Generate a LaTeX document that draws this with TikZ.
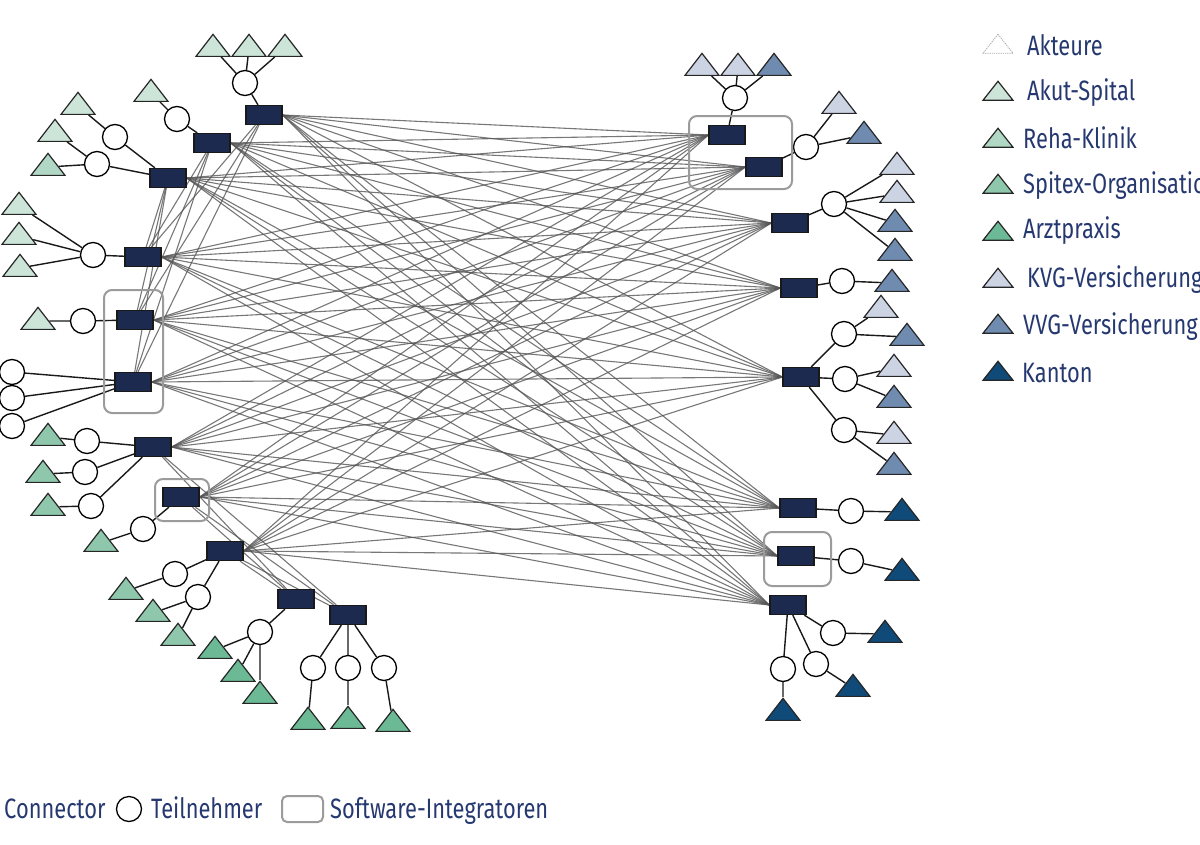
\documentclass[tikz,border=0pt]{standalone}
\usepackage{fontspec}
\setmainfont[FakeStretch=0.78]{Fira Sans}
\usetikzlibrary{shapes.geometric,backgrounds}
\definecolor{navy}{RGB}{27,42,78}
\definecolor{akut}{RGB}{205,229,216}
\definecolor{reha}{RGB}{176,216,196}
\definecolor{spitex}{RGB}{143,199,172}
\definecolor{arzt}{RGB}{108,185,150}
\definecolor{kvg}{RGB}{204,211,227}
\definecolor{vvg}{RGB}{111,139,176}
\definecolor{kanton}{RGB}{15,74,120}
\definecolor{textblue}{RGB}{38,56,112}
\definecolor{meshgray}{RGB}{85,85,85}
\definecolor{boxgray}{RGB}{155,155,155}
\begin{document}
\begin{tikzpicture}[x=1pt,y=-1pt,
  conn/.style={rectangle, draw=black!90, fill=navy, line width=1.3, minimum width=36, minimum height=19, inner sep=0},
  part/.style={circle, draw=black, fill=white, line width=1.3, minimum size=25, inner sep=0},
  tri/.style={isosceles triangle, isosceles triangle stretches, shape border rotate=90, draw=black!85, line width=1.2, fill=#1, minimum width=34, minimum height=22, inner sep=0},
  ltri/.style={tri=#1, minimum width=30, minimum height=19},
  tedge/.style={line width=1.4, black!90},
  mesh/.style={line width=1.1, draw=meshgray, draw opacity=0.8},
  intbox/.style={draw=boxgray, line width=2, rounded corners=8},
  lbl/.style={text=textblue, font=\fontsize{28}{30}\selectfont, inner sep=0, anchor=base west}]
\useasboundingbox (0,0) rectangle (1200,844);
\clip (0,0) rectangle (1200,844);
% left connectors
\node[conn] (L1) at (264,115) {};
\node[conn] (L2) at (212,143) {};
\node[conn] (L3) at (168,178) {};
\node[conn] (L4) at (143,257) {};
\node[conn] (L5) at (135,320) {};
\node[conn] (L6) at (133,382) {};
\node[conn] (L7) at (153,447) {};
\node[conn] (L8) at (181,497) {};
\node[conn] (L9) at (225,551) {};
\node[conn] (L10) at (296,599) {};
\node[conn] (L11) at (348,615) {};
% right connectors
\node[conn] (R1) at (727,135) {};
\node[conn] (R2) at (764,167) {};
\node[conn] (R3) at (790,223) {};
\node[conn] (R4) at (799,288) {};
\node[conn] (R5) at (801,377) {};
\node[conn] (R6) at (798,508) {};
\node[conn] (R7) at (796,556) {};
\node[conn] (R8) at (788,605) {};
% left participants
\node[part] (pA) at (245,83) {};
\node[tri=akut] (tA1) at (213,48) {};
\node[tri=akut] (tA2) at (249,48) {};
\node[tri=akut] (tA3) at (285,48) {};
\node[part] (pB) at (177,119) {};
\node[tri=akut] (tB) at (151,93) {};
\node[part] (pC1) at (115,137) {};
\node[part] (pC2) at (97,164) {};
\node[tri=akut] (tC1) at (78,106) {};
\node[tri=akut] (tC2) at (55,133) {};
\node[tri=reha] (tC3) at (48,167) {};
\node[part] (pD) at (93,255) {};
\node[tri=akut] (tD1) at (19,206) {};
\node[tri=akut] (tD2) at (19,236) {};
\node[tri=akut] (tD3) at (20,268) {};
\node[part] (pE) at (83,321) {};
\node[tri=akut] (tE) at (38,321) {};
\node[part] (pF1) at (12,372) {};
\node[part] (pF2) at (12,398) {};
\node[part] (pF3) at (12,426) {};
\node[part] (pG1) at (87,441) {};
\node[part] (pG2) at (85,472) {};
\node[part] (pG3) at (91,506) {};
\node[tri=spitex] (tG1) at (48,437) {};
\node[tri=spitex] (tG2) at (43,474) {};
\node[tri=spitex] (tG3) at (48,507) {};
\node[part] (pH) at (143,529) {};
\node[tri=spitex] (tH) at (101,543) {};
\node[part] (pI1) at (175,574) {};
\node[part] (pI2) at (198,597) {};
\node[tri=spitex] (tI1) at (126,591) {};
\node[tri=spitex] (tI2) at (153,613) {};
\node[tri=spitex] (tI3) at (178,637) {};
\node[part] (pJ) at (260,632) {};
\node[tri=arzt] (tJ1) at (215,650) {};
\node[tri=arzt] (tJ2) at (238,673) {};
\node[tri=arzt] (tJ3) at (260,695) {};
\node[part] (pK1) at (313,668) {};
\node[part] (pK2) at (348,668) {};
\node[part] (pK3) at (384,668) {};
\node[tri=arzt] (tK1) at (308,721) {};
\node[tri=arzt] (tK2) at (348,720) {};
\node[tri=arzt] (tK3) at (393,723) {};
% right participants
\node[part] (pR1) at (735,98) {};
\node[tri=kvg] (tR1a) at (702,67) {};
\node[tri=kvg] (tR1b) at (738,67) {};
\node[tri=vvg] (tR1c) at (774,67) {};
\node[part] (pR2) at (806,147) {};
\node[tri=kvg] (tR2a) at (839,105) {};
\node[tri=vvg] (tR2b) at (864,135) {};
\node[part] (pR3) at (834,204) {};
\node[tri=kvg] (tR3a) at (897,166) {};
\node[tri=kvg] (tR3b) at (897,194) {};
\node[tri=vvg] (tR3c) at (895,223) {};
\node[tri=vvg] (tR3d) at (895,252) {};
\node[part] (pR4) at (842,281) {};
\node[tri=vvg] (tR4) at (892,283) {};
\node[part] (pR5a) at (844,334) {};
\node[part] (pR5b) at (845,379) {};
\node[part] (pR5c) at (844,430) {};
\node[tri=kvg] (tR5a) at (881,309) {};
\node[tri=vvg] (tR5b) at (907,337) {};
\node[tri=kvg] (tR5c) at (894,368) {};
\node[tri=vvg] (tR5d) at (894,399) {};
\node[tri=kvg] (tR5e) at (894,435) {};
\node[tri=vvg] (tR5f) at (894,466) {};
\node[part] (pR6) at (851,511) {};
\node[tri=kanton] (tR6) at (902,512) {};
\node[part] (pR7) at (851,561) {};
\node[tri=kanton] (tR7) at (902,572) {};
\node[part] (pR8a) at (833,633) {};
\node[part] (pR8b) at (816,664) {};
\node[part] (pR8c) at (783,669) {};
\node[tri=kanton] (tR8a) at (885,634) {};
\node[tri=kanton] (tR8b) at (853,688) {};
\node[tri=kanton] (tR8c) at (783,712) {};
% integrator boxes
\draw[intbox] (104,290) rectangle (163,413);
\draw[intbox] (155,479) rectangle (209,521);
\draw[intbox] (689,116) rectangle (792,189);
\draw[intbox] (764,532) rectangle (831,586);
\begin{scope}[on background layer]
\foreach \l in {1,...,9} \foreach \r in {1,...,8} \draw[mesh] (L\l.east) -- (R\r.west);
\foreach \a in {1,2,3} \foreach \b in {4,5,6} \draw[mesh] (L\a) -- (L\b);
\foreach \a in {7,8,9} \foreach \b in {10,11} \draw[mesh] (L\a) -- (L\b);
\draw[tedge] (L1) -- (pA) (pA) -- (tA1) (pA) -- (tA2) (pA) -- (tA3);
\draw[tedge] (L2) -- (pB) (pB) -- (tB);
\draw[tedge] (L3) -- (pC1) (L3) -- (pC2) (pC1) -- (tC1) (pC2) -- (tC2) (pC2) -- (tC3);
\draw[tedge] (L4) -- (pD) (pD) -- (tD1) (pD) -- (tD2) (pD) -- (tD3);
\draw[tedge] (L5) -- (pE) (pE) -- (tE);
\draw[tedge] (L6) -- (pF1) (L6) -- (pF2) (L6) -- (pF3);
\draw[tedge] (L7) -- (pG1) (L7) -- (pG2) (L7) -- (pG3) (pG1) -- (tG1) (pG2) -- (tG2) (pG3) -- (tG3);
\draw[tedge] (L8) -- (pH) (pH) -- (tH);
\draw[tedge] (L9) -- (pI1) (L9) -- (pI2) (pI1) -- (tI1) (pI2) -- (tI2) (pI2) -- (tI3);
\draw[tedge] (L10) -- (pJ) (pJ) -- (tJ1) (pJ) -- (tJ2) (pJ) -- (tJ3);
\draw[tedge] (L11) -- (pK1) (L11) -- (pK2) (L11) -- (pK3) (pK1) -- (tK1) (pK2) -- (tK2) (pK3) -- (tK3);
\draw[tedge] (R1) -- (pR1) (pR1) -- (tR1a) (pR1) -- (tR1b) (pR1) -- (tR1c);
\draw[tedge] (R2) -- (pR2) (pR2) -- (tR2a) (pR2) -- (tR2b);
\draw[tedge] (R3) -- (pR3) (pR3) -- (tR3a) (pR3) -- (tR3b) (pR3) -- (tR3c) (pR3) -- (tR3d);
\draw[tedge] (R4) -- (pR4) (pR4) -- (tR4);
\draw[tedge] (R5) -- (pR5a) (R5) -- (pR5b) (R5) -- (pR5c) (pR5a) -- (tR5a) (pR5a) -- (tR5b) (pR5b) -- (tR5c) (pR5b) -- (tR5d) (pR5c) -- (tR5e) (pR5c) -- (tR5f);
\draw[tedge] (R6) -- (pR6) (pR6) -- (tR6);
\draw[tedge] (R7) -- (pR7) (pR7) -- (tR7);
\draw[tedge] (R8) -- (pR8a) (R8) -- (pR8b) (R8) -- (pR8c) (pR8a) -- (tR8a) (pR8b) -- (tR8b) (pR8c) -- (tR8c);
\end{scope}
% legend right
\node[ltri=white, fill=none, draw=gray!70, densely dotted, line width=0.8] (lg0) at (998,46) {};
\node[lbl] (lt0) at (1027,55) {Akteure};
\node[ltri=akut] (lg1) at (998,93) {};
\node[lbl] (lt1) at (1027,100) {Akut-Spital};
\node[ltri=reha] (lg2) at (998,140) {};
\node[lbl] (lt2) at (1023,148) {Reha-Klinik};
\node[ltri=spitex] (lg3) at (998,186) {};
\node[lbl] (lt3) at (1023,193) {Spitex-Organisation};
\node[ltri=arzt] (lg4) at (998,233) {};
\node[lbl] (lt4) at (1023,238) {Arztpraxis};
\node[ltri=kvg] (lg5) at (998,280) {};
\node[lbl] (lt5) at (1027,287) {KVG-Versicherung};
\node[ltri=vvg] (lg6) at (998,326) {};
\node[lbl] (lt6) at (1023,334) {VVG-Versicherung};
\node[ltri=kanton] (lg7) at (998,373) {};
\node[lbl] (lt7) at (1022,382) {Kanton};
% legend bottom
\node[lbl] (lb1) at (4,818) {Connector};
\node[part] (lbc) at (129,809) {};
\node[lbl] (lb2) at (151,818) {Teilnehmer};
\draw[intbox, rounded corners=5] (282,796) rectangle (323,822);
\node[lbl] (lb3) at (330,818) {Software-Integratoren};
\end{tikzpicture}
\end{document}
